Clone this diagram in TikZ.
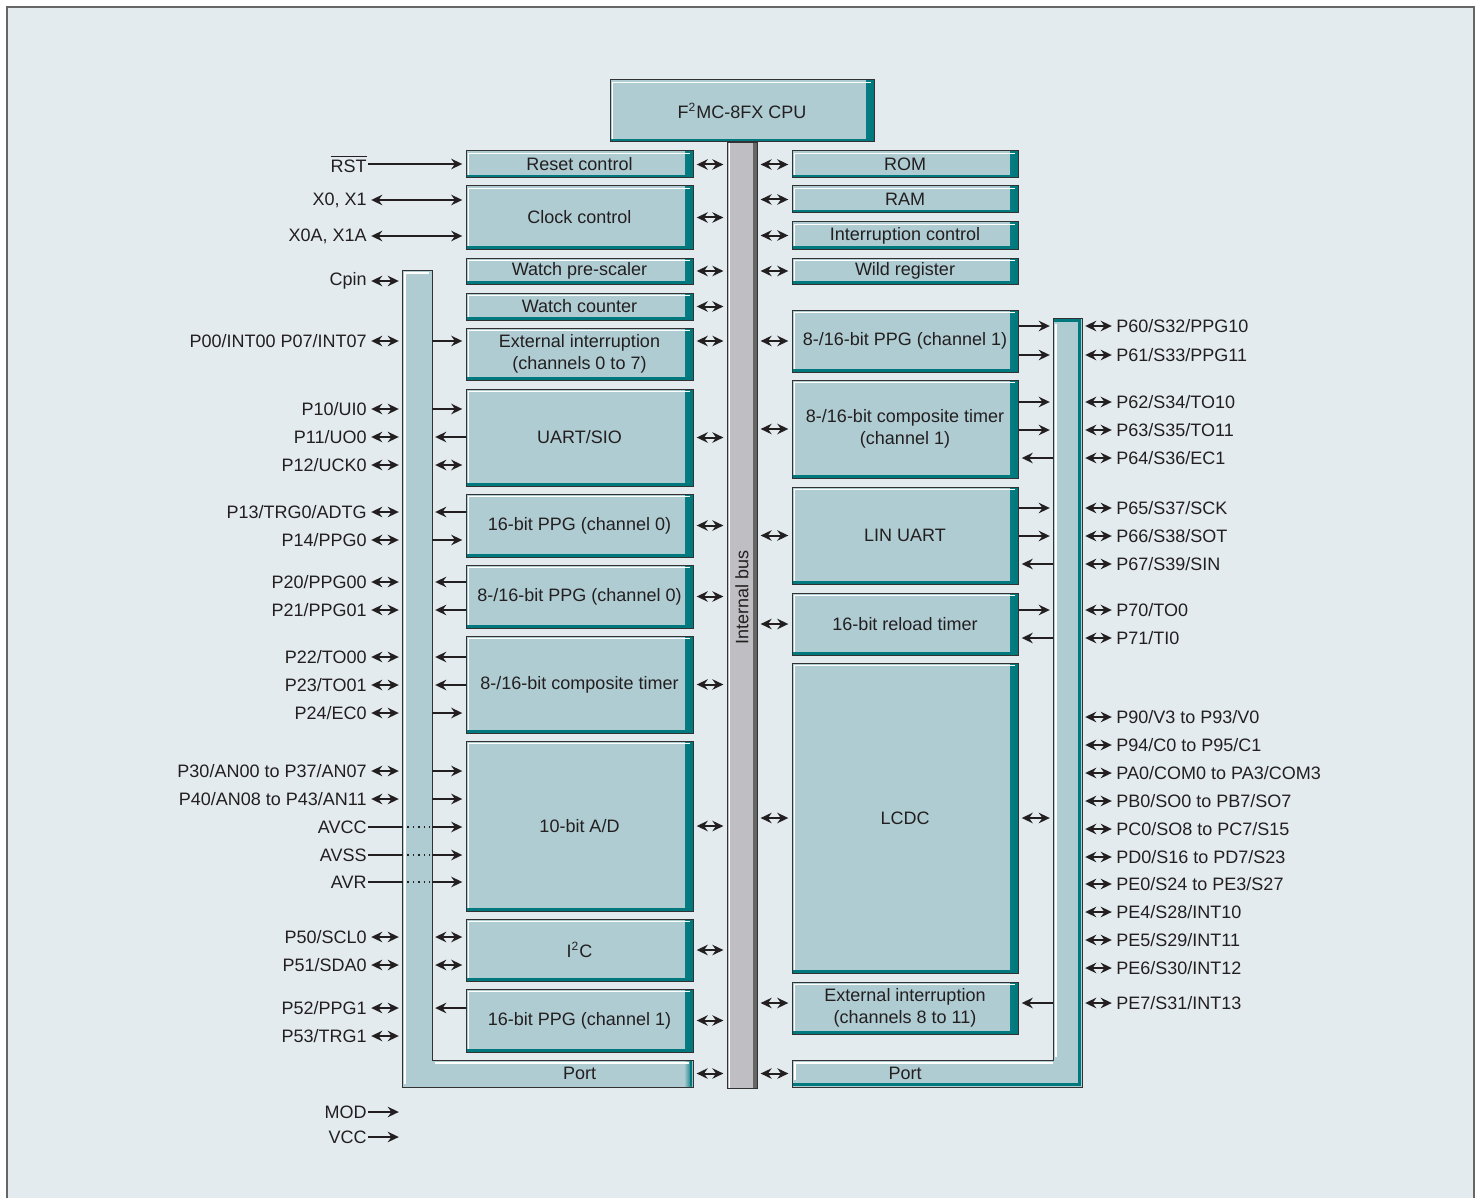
\documentclass[tikz,border=0pt]{standalone}
\usepackage{fontspec}
\setmainfont{Liberation Sans}
\usetikzlibrary{arrows.meta}
\definecolor{bgc}{RGB}{227,235,238}
\definecolor{boxc}{RGB}{175,204,210}
\definecolor{tealc}{RGB}{0,121,126}
\definecolor{edgec}{RGB}{50,50,50}
\definecolor{busc}{RGB}{190,190,195}
\definecolor{inkc}{RGB}{35,31,32}

\begin{document}
\begin{tikzpicture}[x=0.5pt,y=-0.5pt,
  every node/.style={font=\fontsize{9}{11}\selectfont,text=inkc},
  blk/.style={draw=edgec,line width=0.5pt,fill=boxc,align=center,inner sep=1pt,minimum height=#1,
    path picture={
      \shade[left color=boxc,right color=tealc] ([xshift=-4pt]path picture bounding box.north east) rectangle (path picture bounding box.south east);
      \fill[tealc] ([xshift=-1.3pt]path picture bounding box.north east) rectangle (path picture bounding box.south east);
      \fill[tealc] (path picture bounding box.south west) rectangle ([yshift=1.3pt]path picture bounding box.south east);
      \draw[white,line width=0.7pt] ([shift={(1.3pt,1.4pt)}]path picture bounding box.south west) |- ([shift={(-1.4pt,-1.3pt)}]path picture bounding box.north east);}},
  lblk/.style={blk=#1,minimum width=113.5pt},
  rblk/.style={blk=#1,minimum width=113pt},
  pinl/.style={anchor=east,inner sep=0.5pt},
  pinr/.style={anchor=west,inner sep=0.5pt},
  dar/.style={{Stealth[length=5.5pt,width=5.2pt]}-{Stealth[length=5.5pt,width=5.2pt]},line width=1pt,draw=inkc,shorten <=1.6pt,shorten >=1.6pt},
  rar/.style={-{Stealth[length=5.5pt,width=5.2pt]},line width=1pt,draw=inkc,shorten >=1.6pt},
  wire/.style={line width=1pt,draw=inkc},
]
\useasboundingbox (0,0) rectangle (1481,1198);
\fill[bgc] (7,7) rectangle (1474,1198);
\draw[black!60,line width=1pt] (7,1198) -- (7,7) -- (1474,7) -- (1474,1198);

\coordinate (pLw) at (402,0);
\coordinate (pLe) at (432,0);
\coordinate (pRw) at (1053,0);
\coordinate (pRe) at (1082,0);

\filldraw[fill=boxc,draw=edgec,line width=0.5pt] (402,270) -- (432,270) -- (432,1060) -- (693,1060) -- (693,1087) -- (402,1087) -- cycle;
\shade[left color=boxc,right color=tealc] (684,1061) rectangle (692,1086);
\fill[tealc] (689.5,1061) rectangle (692,1086);
\draw[white,line width=0.7pt] (405,1084) -- (405,273) -- (429,273);
\draw[white,line width=0.7pt] (435,1063) -- (689,1063);

\filldraw[fill=boxc,draw=edgec,line width=0.5pt] (1053,318) -- (1082,318) -- (1082,1087) -- (792,1087) -- (792,1060) -- (1053,1060) -- cycle;
\fill[tealc] (1077.5,319) rectangle (1081,1086);
\fill[tealc] (793,1082.5) rectangle (1081,1086);
\fill[tealc] (1054,319) rectangle (1081,322);
\draw[white,line width=0.7pt] (1056,1057) -- (1056,324);
\draw[white,line width=0.7pt] (795,1080) -- (795,1063) -- (1053,1063);

\node[draw=edgec,fill=busc,minimum width=15pt,minimum height=473pt,inner sep=0pt,
  path picture={\fill[black!60] ([xshift=-2pt]path picture bounding box.north east) rectangle (path picture bounding box.south east);
  \draw[white,line width=0.7pt] ([xshift=1.3pt]path picture bounding box.south west) -- ([xshift=1.3pt]path picture bounding box.north west);}]
  (bus) at (742,615) {};
\node[rotate=90] (bustxt) at (742,597) {Internal bus};
\node[blk=31pt,minimum width=132pt] (cpu) at (742,111) {F\textsuperscript{2}MC-8FX CPU};

\node[lblk=13.5pt] (reset) at (579.5,164.5) {Reset control};
\node[lblk=31.5pt] (clk)   at (579.5,217.5) {Clock control};
\node[lblk=13pt]   (wps)   at (579.5,271)   {Watch pre-scaler};
\node[lblk=13.5pt] (wcnt)  at (579.5,306.5) {Watch counter};
\node[lblk=26pt]   (extl)  at (579.5,354)   {External interruption\\(channels 0 to 7)};
\node[lblk=48.5pt] (uart)  at (579.5,437.5) {UART/SIO};
\node[lblk=31.5pt] (ppg0)  at (579.5,525.5) {16-bit PPG (channel 0)};
\node[lblk=31.5pt] (ppg8)  at (579.5,596.5) {8-/16-bit PPG (channel 0)};
\node[lblk=48.5pt] (comp)  at (579.5,684.5) {8-/16-bit composite timer};
\node[lblk=85pt]   (adc)   at (579.5,826)   {10-bit A/D};
\node[lblk=31pt]   (i2c)   at (579.5,950)   {I\textsuperscript{2}C};
\node[lblk=31.5pt] (ppg1)  at (579.5,1020.5) {16-bit PPG (channel 1)};
\node[minimum width=113.5pt,minimum height=13.5pt,inner sep=0pt] (portL) at (579.5,1073.5) {Port};

\node[rblk=13.5pt] (rom)    at (905,164.5) {ROM};
\node[rblk=13.5pt] (ram)    at (905,199.5) {RAM};
\node[rblk=13.5pt] (intc)   at (905,235.5) {Interruption control};
\node[rblk=13pt]   (wild)   at (905,271)   {Wild register};
\node[rblk=31pt]   (ppgR)   at (905,341)   {8-/16-bit PPG (channel 1)};
\node[rblk=49pt]   (compR)  at (905,429)   {8-/16-bit composite timer\\(channel 1)};
\node[rblk=48.5pt] (lin)    at (905,535.5) {LIN UART};
\node[rblk=31pt]   (reload) at (905,624)   {16-bit reload timer};
\node[rblk=155pt]  (lcdc)   at (905,818)   {LCDC};
\node[rblk=26pt]   (extR)   at (905,1008)  {External interruption\\(channels 8 to 11)};
\node[minimum width=113pt,minimum height=13.5pt,inner sep=0pt] (portR) at (905,1073.5) {Port};

\node[pinl] (rst)  at (368,164)  {$\overline{\mbox{RST}}$};
\node[pinl] (xo)   at (368,200)  {X0, X1};
\node[pinl] (xoa)  at (368,236)  {X0A, X1A};
\node[pinl] (cpin) at (368,281)  {Cpin};
\node[pinl] (p00)  at (368,341)  {P00/INT00 P07/INT07};
\node[pinl] (p10)  at (368,409)  {P10/UI0};
\node[pinl] (p11)  at (368,437)  {P11/UO0};
\node[pinl] (p12)  at (368,465)  {P12/UCK0};
\node[pinl] (p13)  at (368,512)  {P13/TRG0/ADTG};
\node[pinl] (p14)  at (368,540)  {P14/PPG0};
\node[pinl] (p20)  at (368,582)  {P20/PPG00};
\node[pinl] (p21)  at (368,610)  {P21/PPG01};
\node[pinl] (p22)  at (368,657)  {P22/TO00};
\node[pinl] (p23)  at (368,685)  {P23/TO01};
\node[pinl] (p24)  at (368,713)  {P24/EC0};
\node[pinl] (p30)  at (368,771)  {P30/AN00 to P37/AN07};
\node[pinl] (p40)  at (368,799)  {P40/AN08 to P43/AN11};
\node[pinl] (avcc) at (368,827)  {AVCC};
\node[pinl] (avss) at (368,855)  {AVSS};
\node[pinl] (avr)  at (368,882)  {AVR};
\node[pinl] (p50)  at (368,937)  {P50/SCL0};
\node[pinl] (p51)  at (368,965)  {P51/SDA0};
\node[pinl] (p52)  at (368,1008) {P52/PPG1};
\node[pinl] (p53)  at (368,1036) {P53/TRG1};
\node[pinl] (mod)  at (368,1112) {MOD};
\node[pinl] (vcc)  at (368,1137) {VCC};

\node[pinr] (p60) at (1115,326)  {P60/S32/PPG10};
\node[pinr] (p61) at (1115,355)  {P61/S33/PPG11};
\node[pinr] (p62) at (1115,402)  {P62/S34/TO10};
\node[pinr] (p63) at (1115,430)  {P63/S35/TO11};
\node[pinr] (p64) at (1115,458)  {P64/S36/EC1};
\node[pinr] (p65) at (1115,508)  {P65/S37/SCK};
\node[pinr] (p66) at (1115,536)  {P66/S38/SOT};
\node[pinr] (p67) at (1115,564)  {P67/S39/SIN};
\node[pinr] (p70) at (1115,610)  {P70/TO0};
\node[pinr] (p71) at (1115,638)  {P71/TI0};
\node[pinr] (p90) at (1115,717)  {P90/V3 to P93/V0};
\node[pinr] (p94) at (1115,745)  {P94/C0 to P95/C1};
\node[pinr] (pa0) at (1115,773)  {PA0/COM0 to PA3/COM3};
\node[pinr] (pb0) at (1115,801)  {PB0/SO0 to PB7/SO7};
\node[pinr] (pc0) at (1115,829)  {PC0/SO8 to PC7/S15};
\node[pinr] (pd0) at (1115,857)  {PD0/S16 to PD7/S23};
\node[pinr] (pe0) at (1115,884)  {PE0/S24 to PE3/S27};
\node[pinr] (pe4) at (1115,912)  {PE4/S28/INT10};
\node[pinr] (pe5) at (1115,940)  {PE5/S29/INT11};
\node[pinr] (pe6) at (1115,968)  {PE6/S30/INT12};
\node[pinr] (pe7) at (1115,1003) {PE7/S31/INT13};

\foreach \b in {reset,clk,wps,wcnt,uart,ppg0,ppg8,comp,adc,i2c,ppg1,portL}
  \draw[dar] (\b.east) -- (\b.east -| bus.west);
\draw[dar] (extl.east |- p00) -- (bus.west |- p00);
\foreach \b in {rom,ram,intc,wild,ppgR,compR,lin,reload,lcdc,portR}
  \draw[dar] (\b.west -| bus.east) -- (\b.west);
\draw[dar] (bus.east |- pe7) -- (extR.west |- pe7);

\draw[rar] (rst.east) -- (rst.east -| reset.west);
\draw[dar] (xo.east) -- (xo.east -| clk.west);
\draw[dar] (xoa.east) -- (xoa.east -| clk.west);
\foreach \p in {cpin,p00,p10,p11,p12,p13,p14,p20,p21,p22,p23,p24,p30,p40,p50,p51,p52,p53}
  \draw[dar] (\p.east) -- (\p.east -| pLw);
\foreach \p in {mod,vcc}
  \draw[rar] (\p.east) -- (\p.east -| pLw);
\foreach \p in {avcc,avss,avr} {
  \draw[wire] (\p.east) -- (\p.east -| pLw);
  \draw[draw=inkc,line width=0.7pt,dotted] (\p.east -| pLw) -- (\p.east -| pLe);
  \draw[rar] (\p.east -| pLe) -- (\p.east -| adc.west);
}
\foreach \p/\b in {p00/extl,p10/uart,p14/ppg0,p24/comp,p30/adc,p40/adc}
  \draw[rar] (\p.east -| pLe) -- (\p.east -| \b.west);
\foreach \p/\b in {p11/uart,p13/ppg0,p20/ppg8,p21/ppg8,p22/comp,p23/comp,p52/ppg1}
  \draw[rar] (\p.east -| \b.west) -- (\p.east -| pLe);
\foreach \p/\b in {p12/uart,p50/i2c,p51/i2c}
  \draw[dar] (\p.east -| pLe) -- (\p.east -| \b.west);

\foreach \p in {p60,p61,p62,p63,p64,p65,p66,p67,p70,p71,p90,p94,pa0,pb0,pc0,pd0,pe0,pe4,pe5,pe6,pe7}
  \draw[dar] (\p.west -| pRe) -- (\p.west);
\foreach \p/\b in {p60/ppgR,p61/ppgR,p62/compR,p63/compR,p65/lin,p66/lin,p70/reload}
  \draw[rar] (\p.west -| \b.east) -- (\p.west -| pRw);
\foreach \p/\b in {p64/compR,p67/lin,p71/reload,pe7/extR}
  \draw[rar] (\p.west -| pRw) -- (\p.west -| \b.east);
\draw[dar] (lcdc.east) -- (lcdc.east -| pRw);
\end{tikzpicture}
\end{document}
